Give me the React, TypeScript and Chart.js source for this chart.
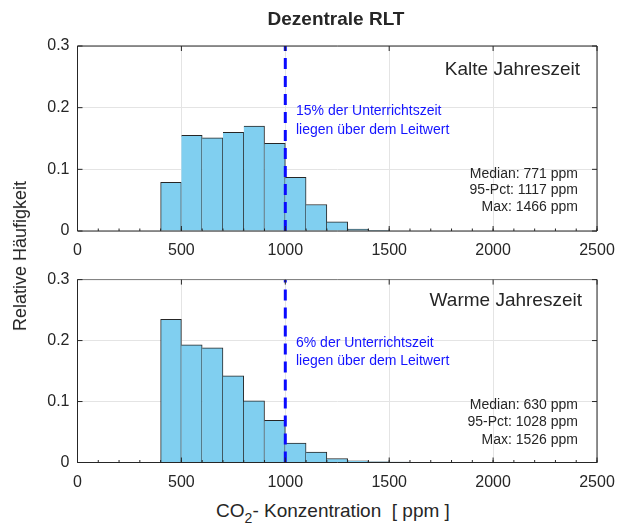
import React, { useEffect, useRef } from "react";
import { Chart, registerables } from "chart.js";

Chart.register(...registerables);

// ---- data ----
const binStarts = [400, 500, 600, 700, 800, 900, 1000, 1100, 1200, 1300, 1400, 1500];
const BIN_WIDTH = 100;
const kalteValues = [0.079, 0.155, 0.151, 0.160, 0.170, 0.142, 0.087, 0.043, 0.015, 0.003, 0.0006];
const warmeValues = [0.235, 0.193, 0.188, 0.142, 0.101, 0.069, 0.032, 0.017, 0.0065, 0.0027, 0.001, 0.0003];
const xTickValues = [0, 500, 1000, 1500, 2000, 2500];
const yTickValues = [0, 0.1, 0.2, 0.3];
const leitwert = 1000;
const kalteStats = ["Median: 771 ppm", "95-Pct: 1117 ppm", "Max: 1466 ppm"];
const warmeStats = ["Median: 630 ppm", "95-Pct: 1028 ppm", "Max: 1526 ppm"];
const kalteNote = ["15% der Unterrichtszeit", "liegen über dem Leitwert"];
const warmeNote = ["6% der Unterrichtszeit", "liegen über dem Leitwert"];

const FONT = '"Liberation Sans", Arial, Helvetica, sans-serif';
const TEXT = "#262626";
const BAR_FILL = "#80cff0";
const BAR_EDGE = "rgba(0,0,0,0.85)";
const MINOR_STEP = 100;

Chart.defaults.font.family = FONT;
Chart.defaults.color = TEXT;

const boxPlugin = {
  id: "box",
  afterDatasetsDraw(chart: any, _args: any, opts: any) {
    const { ctx, chartArea: a, scales } = chart;
    const x = scales.x;
    const y = scales.y;
    ctx.save();
    ctx.lineWidth = 1;
    ctx.strokeStyle = TEXT;
    ctx.beginPath();
    ctx.moveTo(a.left, a.top);
    ctx.lineTo(a.left, a.bottom);
    ctx.lineTo(a.right, a.bottom);
    ctx.lineTo(a.right, a.top);
    ctx.stroke();
    ctx.strokeStyle = opts.topColor || TEXT;
    ctx.lineWidth = opts.topWidth || 1;
    ctx.beginPath();
    ctx.moveTo(a.left, a.top);
    ctx.lineTo(a.right, a.top);
    ctx.stroke();
    ctx.lineWidth = 1;
    ctx.strokeStyle = TEXT;
    ctx.beginPath();
    x.ticks.forEach((_t: any, i: number) => {
      const px = x.getPixelForTick(i);
      ctx.moveTo(px, a.bottom);
      ctx.lineTo(px, a.bottom - 5);
      ctx.moveTo(px, a.top);
      ctx.lineTo(px, a.top + 5);
    });
    y.ticks.forEach((_t: any, i: number) => {
      const py = y.getPixelForTick(i);
      ctx.moveTo(a.left, py);
      ctx.lineTo(a.left + 5, py);
      ctx.moveTo(a.right, py);
      ctx.lineTo(a.right - 5, py);
    });
    for (let v = x.min; v <= x.max; v += MINOR_STEP) {
      const px = x.getPixelForValue(v);
      ctx.moveTo(px, a.bottom);
      ctx.lineTo(px, a.bottom - 2.5);
    }
    ctx.stroke();
    ctx.restore();
  },
};

function makeConfig(values: number[], padTop: number, xAxisHeight: number, topColor: string) {
  const barData = values.map((v, i) => ({ x: binStarts[i] + BIN_WIDTH / 2, y: v }));
  return {
    type: "bar",
    data: {
      datasets: [
        {
          type: "line",
          data: [
            { x: leitwert, y: 0 },
            { x: leitwert, y: 0.3 },
          ],
          borderColor: "#0a0aff",
          borderWidth: 3,
          borderDash: [11, 7],
          pointRadius: 0,
          fill: false,
          order: 0,
        },
        {
          type: "bar",
          data: barData,
          backgroundColor: BAR_FILL,
          borderColor: BAR_EDGE,
          borderSkipped: false,
          borderWidth: (c: any) => ({ top: 1, right: 1, bottom: 0, left: c.dataIndex === 0 ? 1 : 0 }),
          barPercentage: 1,
          categoryPercentage: 1,
          grouped: false,
          order: 1,
        },
      ],
    },
    options: {
      animation: false,
      responsive: false,
      events: [],
      layout: { padding: { top: padTop, right: 28, left: 0, bottom: 0 } },
      plugins: {
        legend: { display: false },
        tooltip: { enabled: false },
        title: { display: false },
        box: { topColor },
      },
      scales: {
        x: {
          type: "linear",
          offset: false,
          min: 0,
          max: 2500,
          afterBuildTicks: (s: any) => {
            s.ticks = xTickValues.map((v) => ({ value: v }));
          },
          afterFit: (s: any) => {
            s.height = xAxisHeight;
          },
          ticks: {
            padding: 10,
            maxRotation: 0,
            autoSkip: false,
            font: { size: 16 },
            color: TEXT,
            callback: (v: any) => String(v),
          },
          grid: { color: "#e4e4e4", drawTicks: false, offset: false },
          border: { display: false },
        },
        y: {
          type: "linear",
          min: 0,
          max: 0.3,
          afterBuildTicks: (s: any) => {
            s.ticks = yTickValues.map((v) => ({ value: v }));
          },
          afterFit: (s: any) => {
            s.width = 77.5;
          },
          ticks: {
            padding: 8,
            font: { size: 16 },
            color: TEXT,
            callback: (v: any) => (v === 0 ? "0" : Number(v).toFixed(1)),
          },
          grid: { color: "#e4e4e4", drawTicks: false },
          border: { display: false },
        },
      },
    },
    plugins: [boxPlugin],
  };
}

function Txt(props: {
  x: number;
  y: number;
  size: number;
  align: "left" | "right" | "center";
  color?: string;
  bold?: boolean;
  children: React.ReactNode;
}) {
  const { x, y, size, align, color, bold, children } = props;
  const style: React.CSSProperties = {
    position: "absolute",
    top: y - size / 2,
    fontSize: size,
    lineHeight: `${size}px`,
    whiteSpace: "nowrap",
    color: color || TEXT,
    fontWeight: bold ? "bold" : "normal",
  };
  if (align === "left") style.left = x;
  else if (align === "right") style.right = 625 - x;
  else {
    style.left = x;
    style.transform = "translateX(-50%)";
  }
  return <div style={style}>{children}</div>;
}

export default function App() {
  const c1 = useRef<HTMLCanvasElement>(null);
  const c2 = useRef<HTMLCanvasElement>(null);

  useEffect(() => {
    const ch1 = new Chart(c1.current as any, makeConfig(kalteValues, 46, 31, TEXT) as any);
    const ch2 = new Chart(c2.current as any, makeConfig(warmeValues, 15, 29.5, "#7a7a7a") as any);
    return () => {
      ch1.destroy();
      ch2.destroy();
    };
  }, []);

  return (
    <div
      style={{
        position: "absolute",
        left: 0,
        top: 0,
        width: 625,
        height: 527,
        background: "#fff",
        fontFamily: FONT,
        overflow: "hidden",
      }}
    >
      <canvas ref={c1} width={625} height={262} style={{ position: "absolute", left: 0, top: 0 }} />
      <canvas ref={c2} width={625} height={230} style={{ position: "absolute", left: 0, top: 262 }} />

      <Txt x={336} y={18} size={19} align="center" bold>
        Dezentrale RLT
      </Txt>

      <div
        style={{
          position: "absolute",
          left: 20,
          top: 256,
          fontSize: 18,
          lineHeight: "18px",
          whiteSpace: "nowrap",
          color: TEXT,
          transform: "translate(-50%, -50%) rotate(-90deg)",
        }}
      >
        Relative Häufigkeit
      </div>

      <Txt x={333} y={510} size={19} align="center">
        CO
        <span style={{ fontSize: 14, position: "relative", top: 6 }}>2</span>- Konzentration&nbsp;&nbsp;[ ppm ]
      </Txt>

      <Txt x={580} y={68} size={19} align="right">
        Kalte Jahreszeit
      </Txt>
      <Txt x={582} y={299} size={19} align="right">
        Warme Jahreszeit
      </Txt>

      {kalteNote.map((s, i) => (
        <Txt key={"kn" + i} x={296} y={110 + i * 18.5} size={14} align="left" color="#1414ff">
          {s}
        </Txt>
      ))}
      {warmeNote.map((s, i) => (
        <Txt key={"wn" + i} x={296} y={341.5 + i * 18} size={14} align="left" color="#1414ff">
          {s}
        </Txt>
      ))}
      {kalteStats.map((s, i) => (
        <Txt key={"ks" + i} x={578} y={172.7 + i * 16.7} size={14} align="right">
          {s}
        </Txt>
      ))}
      {warmeStats.map((s, i) => (
        <Txt key={"ws" + i} x={578} y={404 + i * 17.3} size={14} align="right">
          {s}
        </Txt>
      ))}
    </div>
  );
}
